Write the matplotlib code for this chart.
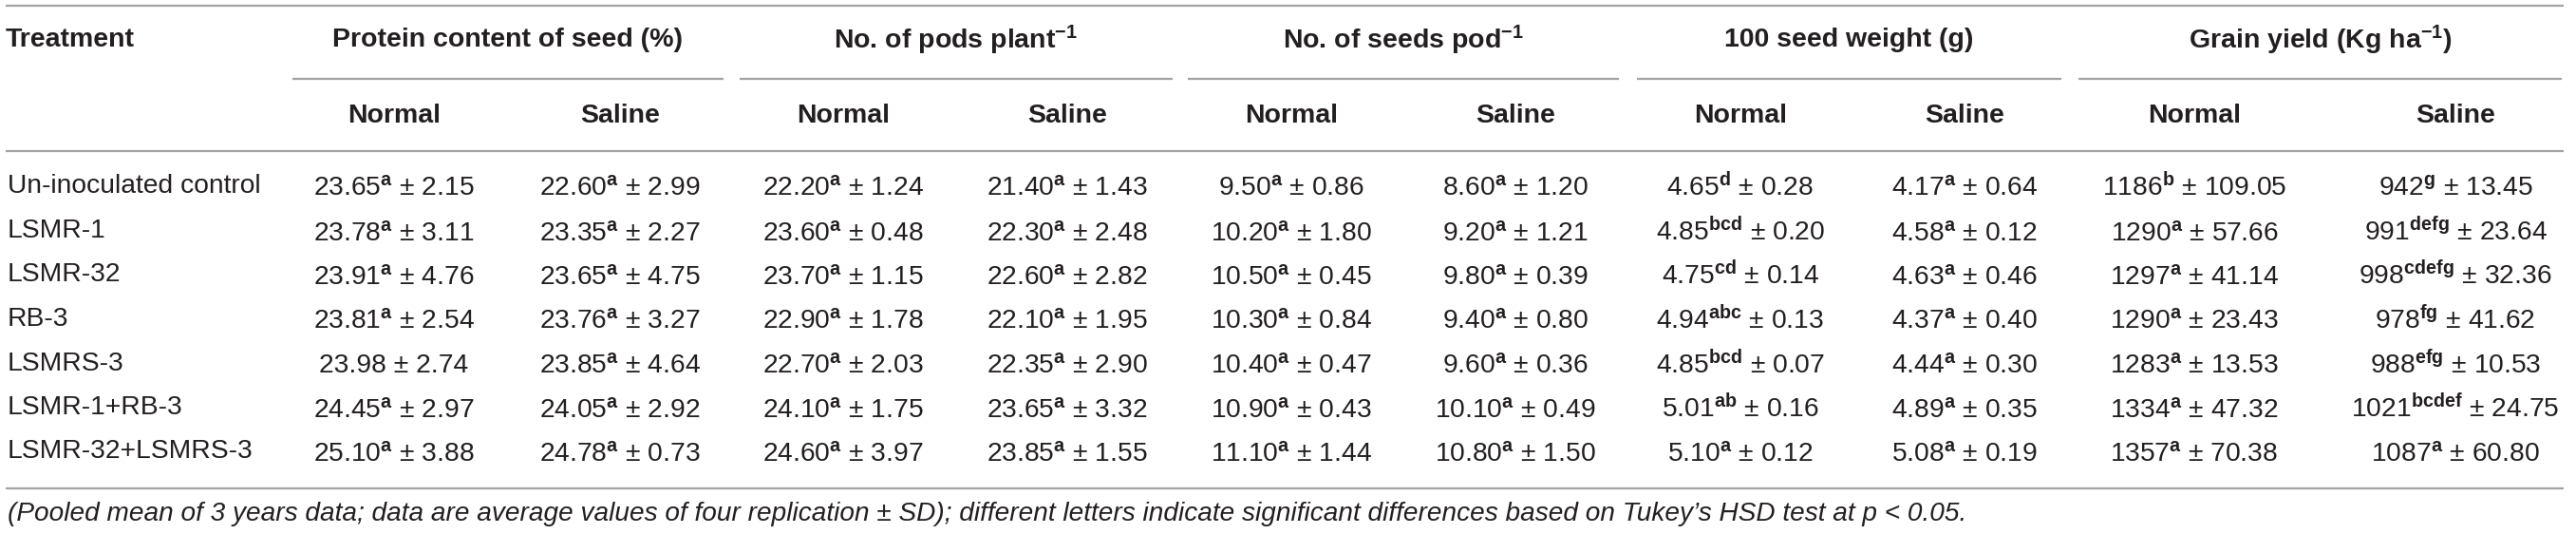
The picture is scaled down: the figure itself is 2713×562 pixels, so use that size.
import matplotlib
matplotlib.use("Agg")
import matplotlib.pyplot as plt

plt.rcParams['font.family'] = ['Liberation Sans', 'DejaVu Sans']
plt.rcParams['mathtext.fontset'] = 'custom'
plt.rcParams['mathtext.rm'] = 'Liberation Sans'
plt.rcParams['mathtext.bf'] = 'Liberation Sans:bold'
plt.rcParams['mathtext.it'] = 'Liberation Sans:italic'
plt.rcParams['mathtext.default'] = 'regular'

# ---------------- data ----------------
treatments = ["Un-inoculated control", "LSMR-1", "LSMR-32", "RB-3", "LSMRS-3",
              "LSMR-1+RB-3", "LSMR-32+LSMRS-3"]

groups = ["Protein content of seed (%)", "No. of pods plant$^{-1}$",
          "No. of seeds pod$^{-1}$", "100 seed weight (g)", "Grain yield (Kg ha$^{-1}$)"]
subheaders = ["Normal", "Saline"]

protein_normal = [23.65, 23.78, 23.91, 23.81, 23.98, 24.45, 25.10]
protein_normal_sd = [2.15, 3.11, 4.76, 2.54, 2.74, 2.97, 3.88]
protein_normal_let = ["a", "a", "a", "a", "", "a", "a"]
protein_saline = [22.60, 23.35, 23.65, 23.76, 23.85, 24.05, 24.78]
protein_saline_sd = [2.99, 2.27, 4.75, 3.27, 4.64, 2.92, 0.73]
protein_saline_let = ["a", "a", "a", "a", "a", "a", "a"]

pods_normal = [22.20, 23.60, 23.70, 22.90, 22.70, 24.10, 24.60]
pods_normal_sd = [1.24, 0.48, 1.15, 1.78, 2.03, 1.75, 3.97]
pods_normal_let = ["a", "a", "a", "a", "a", "a", "a"]
pods_saline = [21.40, 22.30, 22.60, 22.10, 22.35, 23.65, 23.85]
pods_saline_sd = [1.43, 2.48, 2.82, 1.95, 2.90, 3.32, 1.55]
pods_saline_let = ["a", "a", "a", "a", "a", "a", "a"]

seeds_normal = [9.50, 10.20, 10.50, 10.30, 10.40, 10.90, 11.10]
seeds_normal_sd = [0.86, 1.80, 0.45, 0.84, 0.47, 0.43, 1.44]
seeds_normal_let = ["a", "a", "a", "a", "a", "a", "a"]
seeds_saline = [8.60, 9.20, 9.80, 9.40, 9.60, 10.10, 10.80]
seeds_saline_sd = [1.20, 1.21, 0.39, 0.80, 0.36, 0.49, 1.50]
seeds_saline_let = ["a", "a", "a", "a", "a", "a", "a"]

weight_normal = [4.65, 4.85, 4.75, 4.94, 4.85, 5.01, 5.10]
weight_normal_sd = [0.28, 0.20, 0.14, 0.13, 0.07, 0.16, 0.12]
weight_normal_let = ["d", "bcd", "cd", "abc", "bcd", "ab", "a"]
weight_saline = [4.17, 4.58, 4.63, 4.37, 4.44, 4.89, 5.08]
weight_saline_sd = [0.64, 0.12, 0.46, 0.40, 0.30, 0.35, 0.19]
weight_saline_let = ["a", "a", "a", "a", "a", "a", "a"]

yield_normal = [1186, 1290, 1297, 1290, 1283, 1334, 1357]
yield_normal_sd = [109.05, 57.66, 41.14, 23.43, 13.53, 47.32, 70.38]
yield_normal_let = ["b", "a", "a", "a", "a", "a", "a"]
yield_saline = [942, 991, 998, 978, 988, 1021, 1087]
yield_saline_sd = [13.45, 23.64, 32.36, 41.62, 10.53, 24.75, 60.80]
yield_saline_let = ["g", "defg", "cdefg", "fg", "efg", "bcdef", "a"]

footnote = ("(Pooled mean of 3 years data; data are average values of four replication \u00b1 SD); "
            "different letters indicate significant differences based on Tukey\u2019s HSD test at p < 0.05.")

columns = [
    (protein_normal, protein_normal_let, protein_normal_sd, 2),
    (protein_saline, protein_saline_let, protein_saline_sd, 2),
    (pods_normal, pods_normal_let, pods_normal_sd, 2),
    (pods_saline, pods_saline_let, pods_saline_sd, 2),
    (seeds_normal, seeds_normal_let, seeds_normal_sd, 2),
    (seeds_saline, seeds_saline_let, seeds_saline_sd, 2),
    (weight_normal, weight_normal_let, weight_normal_sd, 2),
    (weight_saline, weight_saline_let, weight_saline_sd, 2),
    (yield_normal, yield_normal_let, yield_normal_sd, 0),
    (yield_saline, yield_saline_let, yield_saline_sd, 0),
]

# ---------------- layout ----------------
W, H = 2713, 562
fig = plt.figure(figsize=(W / 100, H / 100), dpi=100)
ax = fig.add_axes([0, 0, 1, 1])
ax.set_xlim(0, W)
ax.set_ylim(H, 0)
ax.axis('off')

TXT = '#231f20'
LINE = '#a3a3a3'
LW = 1.6

col_x = [415, 653, 888, 1124, 1360, 1596, 1833, 2069, 2311, 2586]
group_span = [(308, 762), (779, 1235), (1251, 1705), (1724, 2171), (2189, 2698)]
y_head, y_under, y_sub, y_hline = 42, 83, 122, 159
y_rows = [196, 243, 289.5, 336, 382.5, 429, 475.5]
y_bottom, y_foot = 514, 541
x_left, x_right = 6, 2700

hdr_fs = 20.5
body_fs = 20.3
foot_fs = 20.2

# rules
for y in (6, y_hline, y_bottom):
    ax.plot([x_left, x_right], [y, y], color=LINE, lw=LW, solid_capstyle='butt')
for (a, b) in group_span:
    ax.plot([a, b], [y_under, y_under], color=LINE, lw=LW, solid_capstyle='butt')

# headers
ax.text(x_left, y_head, "Treatment", fontsize=hdr_fs, fontweight='bold', color=TXT,
        ha='left', va='center')
for g, (a, b) in zip(groups, group_span):
    ax.text((a + b) / 2, y_head, g, fontsize=hdr_fs, fontweight='bold', color=TXT,
            ha='center', va='center')
for i, cx in enumerate(col_x):
    ax.text(cx, y_sub, subheaders[i % 2], fontsize=hdr_fs, fontweight='bold', color=TXT,
            ha='center', va='center')

# body
for r, name in enumerate(treatments):
    ax.text(x_left + 2, y_rows[r], name, fontsize=body_fs, color=TXT, ha='left', va='center')
    for cx, (means, lets, sds, dec) in zip(col_x, columns):
        m = f"{means[r]:.{dec}f}"
        sup = f"$^{{\\mathbf{{{lets[r]}}}}}$" if lets[r] else ""
        s = f"{m}{sup} \u00b1 {sds[r]:.2f}"
        ax.text(cx, y_rows[r] + 10, s, fontsize=body_fs, color=TXT, ha='center',
                va='baseline')

ax.text(x_left + 2, y_foot, footnote, fontsize=foot_fs, style='italic', color=TXT,
        ha='left', va='center')

fig.savefig("out.png", dpi=100)
